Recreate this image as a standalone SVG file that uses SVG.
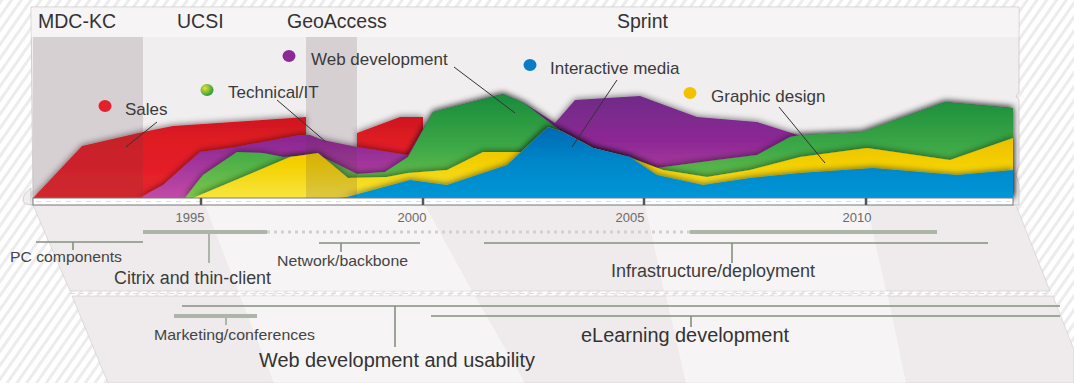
<svg xmlns="http://www.w3.org/2000/svg" width="1074" height="383" viewBox="0 0 1074 383">
<style>
.hdr{font-family:"Liberation Sans",Arial,sans-serif;font-size:19.5px;fill:#333}
.leg{font-family:"Liberation Sans",Arial,sans-serif;font-size:17px;fill:#3a3a3a}
.yr{font-family:"Liberation Sans",Arial,sans-serif;font-size:13px;fill:#6a6a6a;text-anchor:middle}
.sm{font-family:"Liberation Sans",Arial,sans-serif;font-size:15px;fill:#444}
.md{font-family:"Liberation Sans",Arial,sans-serif;font-size:18px;fill:#3c3c3c}
.lg{font-family:"Liberation Sans",Arial,sans-serif;font-size:20px;fill:#333}
.lead{stroke:#333;stroke-width:1;fill:none}
.tl{stroke:#84917f;stroke-width:1.6;fill:none}
.tlk{stroke:#abb5a8;stroke-width:4;fill:none}
.tlt{stroke:#abb5a8;stroke-width:2;fill:none}
.band{fill:#5a3a46;opacity:0.17}
.layer{filter:url(#sh)}
</style>
<defs>
<pattern id="hatch" width="8" height="8" patternUnits="userSpaceOnUse" patternTransform="rotate(35)">
<rect width="8" height="8" fill="#ffffff"/>
<rect width="3" height="8" fill="#ececec"/>
</pattern>
<linearGradient id="gR" gradientUnits="userSpaceOnUse" x1="0" y1="110" x2="0" y2="198">
<stop offset="0" stop-color="#c9171e"/><stop offset="0.35" stop-color="#df1b24"/><stop offset="1" stop-color="#e9232b"/>
</linearGradient>
<linearGradient id="gP" gradientUnits="userSpaceOnUse" x1="0" y1="95" x2="0" y2="198">
<stop offset="0" stop-color="#6f2a88"/><stop offset="0.45" stop-color="#8d2894"/><stop offset="1" stop-color="#c24aa6"/>
</linearGradient>
<linearGradient id="gG" gradientUnits="userSpaceOnUse" x1="0" y1="95" x2="0" y2="198">
<stop offset="0" stop-color="#1a8c3c"/><stop offset="0.5" stop-color="#3ca846"/><stop offset="1" stop-color="#7cc64a"/>
</linearGradient>
<linearGradient id="gY" gradientUnits="userSpaceOnUse" x1="0" y1="130" x2="0" y2="198">
<stop offset="0" stop-color="#eab900"/><stop offset="0.5" stop-color="#f4d000"/><stop offset="1" stop-color="#f8e63e"/>
</linearGradient>
<linearGradient id="gB" gradientUnits="userSpaceOnUse" x1="0" y1="125" x2="0" y2="198">
<stop offset="0" stop-color="#0066b2"/><stop offset="0.5" stop-color="#0086c9"/><stop offset="1" stop-color="#0096d6"/>
</linearGradient>
<radialGradient id="dG" cx="0.35" cy="0.35" r="0.7">
<stop offset="0" stop-color="#e8e030"/><stop offset="1" stop-color="#1d9a3c"/>
</radialGradient>
<filter id="sh" x="-5%" y="-60%" width="110%" height="200%">
<feGaussianBlur in="SourceAlpha" stdDeviation="3.2"/>
<feOffset dy="-1.5" result="b"/>
<feFlood flood-color="#000" flood-opacity="0.5"/>
<feComposite in2="b" operator="in"/>
<feMerge><feMergeNode/><feMergeNode in="SourceGraphic"/></feMerge>
</filter>
</defs>

<g id="background">
<rect width="1074" height="383" fill="url(#hatch)"/>
<path d="M31,7 H1019 V92 l-3,4 3,4 V165 l-3,10 3,10 V205 H31 V188 q-8,6 -8,12 q0,5 10,5 Z" fill="#f1eeef" stroke="#c8c4c6" stroke-width="0.8"/>
<rect x="31.5" y="7.5" width="987" height="29.5" fill="#f6f4f5"/>
<path d="M33,205 L1016,205 L1050,291 L70,291 Z" fill="#efebec" stroke="#cfcacc" stroke-width="0.6"/>
<path d="M72,296 L1053,296 L1074,350 L1074,383 L108,383 Z" fill="#efebec" stroke="#cfcacc" stroke-width="0.6"/>
<line x1="70" y1="293.5" x2="1052" y2="293.5" stroke="#dcdcdc" stroke-width="1" stroke-dasharray="5 4"/>
<path d="M205,205 L425,205 L472,291 L238,291 Z M240,296 L475,296 L525,383 L274,383 Z" fill="#ffffff" opacity="0.45"/>
<path d="M645,205 L867,205 L886,291 L664,291 Z M666,296 L888,296 L906,383 L686,383 Z" fill="#ffffff" opacity="0.45"/>
</g>

<g id="chart">
<path class="layer" fill="url(#gR)" d="M33,198 L82,146 L143,132 L173,126 L306,117 L306,150 L357,150 L357,133 L400,117 L423,117 L423,198 Z"/>
<path class="layer" fill="url(#gP)" d="M140,198 L150,192 L163,185 L182,168 L200,152 L230,148 L300,135 L310,135 L323,140 L357,147 L408,155 L433,112 L503,94 L524,103 L555,123 L575,100 L640,96 L697,117 L757,122 L798,135 L862,132 L945,102 L1013,108 L1013,198 Z"/>
<path class="layer" fill="url(#gG)" d="M185,198 L195,185 L203,175 L237,152 L263,153 L283,157 L300,156 L318,155 L335,163 L357,174 L385,172 L408,157 L433,112 L503,94 L524,103 L554,126 L563,132 L593,148 L630,157 L657,168 L717,160 L757,155 L790,137 L800,135 L862,132 L945,102 L1013,108 L1013,198 Z"/>
<path class="layer" fill="url(#gY)" d="M193,198 L290,157 L318,153 L348,178 L387,177 L408,173 L447,170 L483,152 L512,152 L521,152 L548,127 L563,132 L593,148 L628,157 L663,170 L707,177 L750,170 L800,157 L867,148 L950,160 L1013,138 L1013,198 Z"/>
<path class="layer" fill="url(#gB)" d="M338,198 L347,197 L410,180 L447,185 L507,165 L548,127 L563,132 L593,148 L630,157 L657,175 L703,185 L750,178 L800,173 L873,168 L957,175 L1013,170 L1013,198 Z"/>
</g>

<g id="period-bands">
<rect class="band" x="33" y="37" width="110" height="161"/>
<rect class="band" x="306" y="37" width="51" height="161"/>
</g>

<g id="header">
<text class="hdr" x="38" y="28">MDC-KC</text>
<text class="hdr" x="177" y="28">UCSI</text>
<text class="hdr" x="287" y="28">GeoAccess</text>
<text class="hdr" x="617" y="28">Sprint</text>
</g>

<g id="axis">
<rect x="33" y="198" width="980" height="7" fill="#ffffff" stroke="#7a7a7a" stroke-width="1"/>
<line x1="36" y1="201.5" x2="1010" y2="201.5" stroke="#e0e0e0" stroke-width="1" stroke-dasharray="5 5"/>
<path d="M201,198 V205 M423,198 V205 M644,198 V205 M866,198 V205" stroke="#555" stroke-width="2.5"/>
<text class="yr" x="190" y="222">1995</text>
<text class="yr" x="412" y="222">2000</text>
<text class="yr" x="630" y="222">2005</text>
<text class="yr" x="857" y="222">2010</text>
</g>

<g id="legend-sales">
<ellipse cx="105" cy="106" rx="6.5" ry="6" fill="#e4202a"/>
<text class="leg" x="125" y="115">Sales</text>
</g>
<g id="legend-technical">
<ellipse cx="207" cy="90" rx="6.5" ry="6" fill="url(#dG)"/>
<text class="leg" x="228" y="98">Technical/IT</text>
</g>
<g id="legend-web">
<ellipse cx="289" cy="56" rx="6.5" ry="6" fill="#8a2a92"/>
<text class="leg" x="311" y="65">Web development</text>
</g>
<g id="legend-interactive">
<ellipse cx="530" cy="65" rx="6.5" ry="6" fill="#0a7cc4"/>
<text class="leg" x="550" y="74">Interactive media</text>
</g>
<g id="legend-graphic">
<ellipse cx="690" cy="93" rx="6.5" ry="6" fill="#f2c200"/>
<text class="leg" x="711" y="102">Graphic design</text>
</g>

<g id="connectors">
<line class="lead" x1="157" y1="122" x2="126" y2="147"/>
<line class="lead" x1="277" y1="100" x2="326" y2="142"/>
<line class="lead" x1="454" y1="67" x2="515" y2="113"/>
<line class="lead" x1="617" y1="80" x2="572" y2="147"/>
<line class="lead" x1="779" y1="107" x2="825" y2="163"/>
</g>

<g id="pc-components">
<path class="tl" d="M36,242 H143 M73,242 V250"/>
<text class="sm" x="10" y="262" textLength="112" lengthAdjust="spacingAndGlyphs">PC components</text>
</g>
<g id="citrix">
<path class="tlk" d="M143,232 H267 M690,232 H937"/>
<path d="M267,232 H690" stroke="#cdd2ca" stroke-width="3" stroke-dasharray="3 4" fill="none"/>
<path class="tlt" d="M209,232 V263"/>
<text class="md" x="114" y="284" textLength="157" lengthAdjust="spacingAndGlyphs">Citrix and thin-client</text>
</g>
<g id="network">
<path class="tl" d="M319,243 H420 M341,243 V252"/>
<text class="sm" x="277" y="266" textLength="131" lengthAdjust="spacingAndGlyphs">Network/backbone</text>
</g>
<g id="infrastructure">
<path class="tl" d="M484,243 H988 M732,243 V263"/>
<text class="md" x="611" y="277" textLength="204" lengthAdjust="spacingAndGlyphs">Infrastructure/deployment</text>
</g>
<g id="marketing">
<path class="tlk" d="M174,316 H257"/>
<path class="tlt" d="M226,316 V325"/>
<text class="sm" x="154" y="340" textLength="161" lengthAdjust="spacingAndGlyphs">Marketing/conferences</text>
</g>
<g id="web-usability">
<path class="tl" d="M182,306 H1060 M395,306 V347"/>
<text class="lg" x="259" y="367" textLength="276" lengthAdjust="spacingAndGlyphs">Web development and usability</text>
</g>
<g id="elearning">
<path class="tl" d="M431,316 H1060 M691,316 V327"/>
<text class="lg" x="581" y="342" textLength="208" lengthAdjust="spacingAndGlyphs">eLearning development</text>
</g>
</svg>
